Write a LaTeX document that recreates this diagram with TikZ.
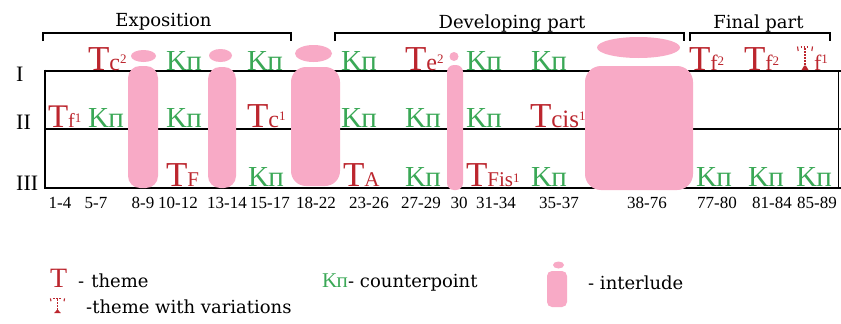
\documentclass[tikz,border=0pt]{standalone}
\usepackage{fontspec}
\setmainfont{Liberation Serif}
\newfontfamily\dvs{DejaVu Serif}
\definecolor{tred}{RGB}{188,38,46}
\definecolor{kgreen}{RGB}{58,168,86}
\definecolor{ipink}{RGB}{248,170,198}
\newcommand\fs[1]{\fontsize{#1}{#1}\selectfont}
\newcommand\KP[1][29]{{\fs{#1}K\kern-0.5ptп}}
% #1 size of T, #2 size of sub, #3 sub text, #4 raise, #5 superscript
\newcommand\TT[5]{{\fs{#1}T}{\fs{#2}#3}\raisebox{#4pt}{\fs{13}#5}}
\tikzset{
  tx/.style={anchor=base west, inner sep=0pt, outer sep=0pt},
  kp/.style={tx, text=kgreen},
  th/.style={tx, text=tred},
  num/.style={anchor=base, inner sep=0pt, font=\fs{17}},
  ttl/.style={anchor=base, inner sep=0pt, font=\dvs\fs{18}},
  leg/.style={anchor=base west, inner sep=0pt, font=\dvs\fs{18}},
  rowlab/.style={anchor=base west, inner sep=0pt, font=\fs{22}},
  grid/.style={line width=2.6pt},
  brk/.style={line width=2.4pt},
  pillar/.style={fill=ipink},
  dashT/.pic={
    \draw[tred, line width=1.3pt, dash pattern=on 1.6pt off 1.4pt] (0,-22) -- (0,-4);
    \fill[tred] (-3.5,0) -- (3.5,0) -- (0.8,-4.5) -- (-0.8,-4.5) -- cycle;
    \draw[tred, line width=1.1pt] (-7.5,-23.5) -- (-6.8,-19);
    \draw[tred, line width=1.1pt] (7.5,-23.5) -- (6.8,-19);
    \draw[tred, line width=1.1pt, dash pattern=on 1.5pt off 1.5pt] (-4.5,-23) -- (4.5,-23);
  }
}
\begin{document}
\begin{tikzpicture}[x=1pt,y=-1pt]
\useasboundingbox[fill=white] (0,0) rectangle (841,324);
% grid lines
\draw[grid] (45,71) -- (841,71);
\draw[grid] (45,129) -- (841,129);
\draw[grid] (45,188) -- (841,188);
\draw[grid] (45,69.7) -- (45,189.3);
\draw[line width=1pt] (838,71) -- (838,188);
% brackets
\draw[brk] (43,41) -- (43,33) -- (291,33) -- (291,41);
\draw[brk] (335,41) -- (335,33) -- (684,33) -- (684,41);
\draw[brk] (690,41) -- (690,33) -- (830,33) -- (830,41);
\node[ttl] (exp) at (163.5,27) {Exposition};
\node[ttl] (dev) at (512,28) {Developing part};
\node[ttl] (fin) at (758.5,28) {Final part};
% row labels
\node[rowlab] (r1) at (16,81) {I};
\node[rowlab] (r2) at (16,129) {II};
\node[rowlab] (r3) at (16,190) {III};
% interludes
\fill[pillar, rounded corners=12pt] (128,66) rectangle (158,188);
\fill[pillar] (143.5,56) ellipse [x radius=12.5, y radius=6];
\fill[pillar, rounded corners=12pt] (208,67) rectangle (236,188);
\fill[pillar] (220.5,55.5) ellipse [x radius=11.5, y radius=6.5];
\fill[pillar, rounded corners=15pt] (291,67) rectangle (340,186);
\fill[pillar] (313.5,53.5) ellipse [x radius=18.5, y radius=8.5];
\fill[pillar, rounded corners=7pt] (447,65) rectangle (463,190);
\fill[pillar] (454,56.5) circle [radius=4.5];
\fill[pillar, rounded corners=16pt] (585,66) rectangle (693,190);
\fill[pillar] (638.5,47.5) ellipse [x radius=41.5, y radius=10.5];
% row I
\node[th] (a1) at (88,70) {\TT{35}{24}{c}{7}{2}};
\node[kp] (a2) at (166,70) {\KP};
\node[kp] (a3) at (247,70) {\KP};
\node[kp] (a4) at (341,70) {\KP};
\node[th] (a5) at (405,70) {\TT{35}{24}{e}{7}{2}};
\node[kp] (a6) at (466,70) {\KP};
\node[kp] (a7) at (531,70) {\KP};
\node[th] (a8) at (689,70) {\TT{35}{22}{f}{5}{2}};
\node[th] (a9) at (744,70) {\TT{35}{22}{f}{5}{2}};
\pic at (805,70) {dashT};
\node[th] (a10) at (814,70) {{\fs{22}f}\raisebox{6pt}{\fs{13}1}};
% row II
\node[th] (b1) at (48,127) {\TT{33}{20}{f}{5}{1}};
\node[kp] (b2) at (88,127) {\KP};
\node[kp] (b3) at (166,127) {\KP};
\node[th] (b4) at (247,127) {\TT{35}{24}{c}{7}{1}};
\node[kp] (b5) at (341,127) {\KP};
\node[kp] (b6) at (405,127) {\KP};
\node[kp] (b7) at (466,127) {\KP};
\node[th] (b8) at (530,127) {\TT{35}{25}{cis}{7}{1}};
% row III
\node[th] (c1) at (166,186) {\TT{35}{21}{F}{7}{}};
\node[kp] (c2) at (248,186) {\KP};
\node[th] (c3) at (343,186) {\TT{35}{21}{A}{7}{}};
\node[kp] (c4) at (405,186) {\KP};
\node[th] (c5) at (466,186) {\TT{35}{21}{Fis}{4}{1}};
\node[kp] (c6) at (531,186) {\KP};
\node[kp] (c7) at (696,186) {\KP};
\node[kp] (c8) at (748,186) {\KP};
\node[kp] (c9) at (796,186) {\KP};
% bar numbers
\node[num] (n1) at (60,208) {1-4};
\node[num] (n2) at (96,208) {5-7};
\node[num] (n3) at (143,208) {8-9};
\node[num] (n4) at (178,208) {10-12};
\node[num] (n5) at (227,208) {13-14};
\node[num] (n6) at (270,208) {15-17};
\node[num] (n7) at (316,208) {18-22};
\node[num] (n8) at (369,208) {23-26};
\node[num] (n9) at (421,208) {27-29};
\node[num] (n10) at (459,208) {30};
\node[num] (n11) at (496,208) {31-34};
\node[num] (n12) at (559,208) {35-37};
\node[num] (n13) at (647,208) {38-76};
\node[num] (n14) at (717,208) {77-80};
\node[num] (n15) at (772,208) {81-84};
\node[num] (n16) at (817,208) {85-89};
% legend
\node[th] (lt) at (50,287) {\fs{28}T};
\node[leg] (ltt) at (78,287) {-\hspace{7pt}theme};
\pic[xscale=0.95, yscale=0.62] at (57.5,313) {dashT};
\node[leg] (lv) at (86,313) {-theme with variations};
\node[kp] (lk) at (322,287) {\KP[21]};
\node[leg] (lkt) at (348,287) {- counterpoint};
\fill[pillar, rounded corners=5pt] (547,271) rectangle (567,307);
\fill[pillar] (558.5,265) ellipse [x radius=5.5, y radius=3.5];
\node[leg] (li) at (588,289) {- interlude};
\end{tikzpicture}
\end{document}
